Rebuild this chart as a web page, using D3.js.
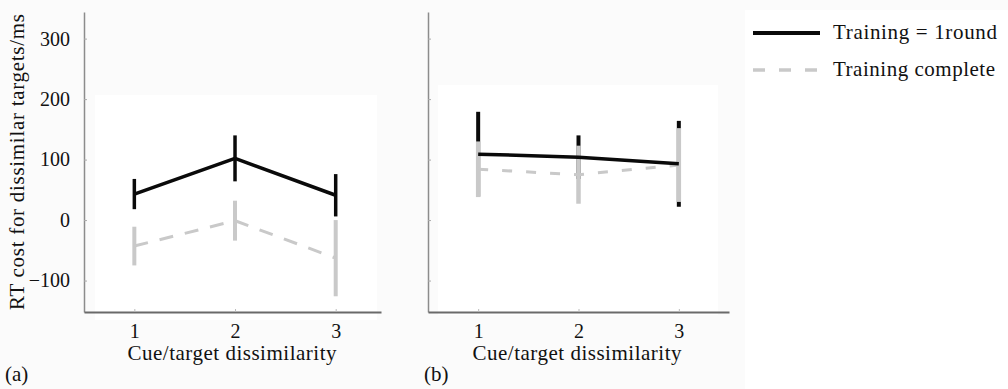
<!DOCTYPE html>
<html><head><meta charset="utf-8">
<script src="https://cdn.jsdelivr.net/npm/d3@7"></script>
<style>
html,body{margin:0;padding:0;background:#fff;}
</style></head>
<body>
<svg id="chart" width="1008" height="389"></svg>
<script>
const categories = [1, 2, 3];
const yTicks = [-100, 0, 100, 200, 300];
const seriesNames = ["Training = 1round", "Training complete"];

const aRound1 = [43, 102, 41];
const aRound1Err = [25, 38, 35];
const aComplete = [-43, -1, -63];
const aCompleteErr = [32, 33, 63];

const bRound1 = [109, 104, 93];
const bRound1Err = [70, 36, 71];
const bComplete = [84, 75, 91];
const bCompleteErr = [46, 48, 61];

// pick an installed serif font
function detectSerif() {
  const cands = ["Liberation Serif", "DejaVu Serif", "Noto Serif", "Tinos", "Times New Roman",
    "FreeSerif", "Nimbus Roman", "Noto Serif CJK SC", "Noto Serif CJK JP", "Times"];
  const c = document.createElement("canvas").getContext("2d");
  const s = "Training complete 0123 RTmsdW";
  const base = {};
  for (const b of ["monospace", "sans-serif"]) { c.font = `72px ${b}`; base[b] = c.measureText(s).width; }
  for (const f of cands) {
    let ok = false;
    for (const b of ["monospace", "sans-serif"]) {
      c.font = `72px "${f}", ${b}`;
      if (Math.abs(c.measureText(s).width - base[b]) > 0.5) ok = true;
    }
    if (ok) return `"${f}", serif`;
  }
  return "serif";
}
const SERIF = detectSerif();

const svg = d3.select("#chart").attr("font-family", SERIF);
const BLACK = "#0a0a0a", GRAY = "#c9c9c9";

svg.append("rect").attr("x",0).attr("y",0).attr("width",1008).attr("height",389).attr("fill","#fbfbfb");
svg.append("rect").attr("x",95).attr("y",95).attr("width",282).attr("height",225).attr("fill","#fff");
svg.append("rect").attr("x",438).attr("y",85).attr("width",280).attr("height",230).attr("fill","#fff");
svg.append("rect").attr("x",745).attr("y",10).attr("width",263).attr("height",379).attr("fill","#fff");

const y = d3.scaleLinear().domain([-152, 344]).range([312, 12]);

function panel(opts) {
  const x = d3.scaleLinear().domain(opts.xDomain).range(opts.xRange);
  const g = svg.append("g");
  const ya = g.append("g").attr("transform", `translate(${opts.xRange[0]},0)`)
    .call(d3.axisLeft(y).tickValues(yTicks).tickSizeInner(-3).tickSizeOuter(0)
      .tickFormat(opts.labels ? (d => d < 0 ? "\u2212" + Math.abs(d) : String(d)) : () => ""));
  ya.attr("font-family", SERIF);
  ya.select(".domain").attr("stroke", "#8c8c8c").attr("stroke-width", 1.5);
  ya.selectAll(".tick line").attr("stroke", "#aaa");
  ya.selectAll(".tick text").attr("x", -14).attr("font-size", 20).attr("fill", "#111");
  const xa = g.append("g").attr("transform", `translate(0,${y.range()[0]})`)
    .call(d3.axisBottom(x).tickValues(categories).tickSizeInner(-3).tickSizeOuter(0).tickFormat(d3.format("d")));
  xa.attr("font-family", SERIF);
  xa.select(".domain").attr("stroke", "#6a6a6a").attr("stroke-width", 2);
  xa.selectAll(".tick line").attr("stroke", "#bbb");
  xa.selectAll(".tick text").attr("y", 12).attr("font-size", 20).attr("fill", "#111");
  g.append("text").attr("x", opts.labelX).attr("y", 360).attr("text-anchor", "middle")
    .attr("font-size", 21).attr("fill", "#111")
    .attr("textLength", 209).attr("lengthAdjust", "spacing").text("Cue/target dissimilarity");
  g.append("text").attr("x", opts.tagX).attr("y", 381).attr("font-size", 21).attr("fill", "#111").text(opts.tag);

  const data = (vals, errs) => categories.map((c, i) => ({c, v: vals[i], e: errs[i]}));
  const line = d3.line().x(d => x(d.c)).y(d => y(d.v));
  const d1 = data(opts.r1, opts.r1e), d2 = data(opts.cp, opts.cpe);
  g.selectAll(".eb1").data(d1).join("line")
    .attr("x1", d => x(d.c)).attr("x2", d => x(d.c))
    .attr("y1", d => y(d.v + d.e)).attr("y2", d => y(d.v - d.e))
    .attr("stroke", BLACK).attr("stroke-width", opts.ebW);
  g.selectAll(".eb2").data(d2).join("line")
    .attr("x1", d => x(d.c)).attr("x2", d => x(d.c))
    .attr("y1", d => y(d.v + d.e)).attr("y2", d => y(d.v - d.e))
    .attr("stroke", GRAY).attr("stroke-width", opts.ebW + 0.5);
  g.append("path").datum(d2).attr("d", line).attr("fill", "none")
    .attr("stroke", GRAY).attr("stroke-width", 3).attr("stroke-dasharray", opts.dash);
  g.append("path").datum(d1).attr("d", line).attr("fill", "none")
    .attr("stroke", BLACK).attr("stroke-width", 3.5).attr("stroke-linejoin", "round");
}

panel({xDomain: [0.5, 3.45], xRange: [84, 381], labels: true, labelX: 232, tagX: 5, tag: "(a)",
  r1: aRound1, r1e: aRound1Err, cp: aComplete, cpe: aCompleteErr, ebW: 3.5, dash: "14,12"});
panel({xDomain: [0.5, 3.5], xRange: [428, 729], labels: false, labelX: 577, tagX: 424, tag: "(b)",
  r1: bRound1, r1e: bRound1Err, cp: bComplete, cpe: bCompleteErr, ebW: 4, dash: "10,14"});

svg.append("text").attr("transform", "translate(24,162) rotate(-90)").attr("text-anchor", "middle")
  .attr("font-size", 21).attr("fill", "#111")
  .attr("textLength", 296).attr("lengthAdjust", "spacing")
  .text("RT cost for dissimilar targets/ms");

const leg = svg.append("g");
const legY = [33, 70];
leg.append("line").attr("x1", 753).attr("x2", 820).attr("y1", legY[0]).attr("y2", legY[0])
  .attr("stroke", BLACK).attr("stroke-width", 4);
leg.append("line").attr("x1", 753).attr("x2", 820).attr("y1", legY[1]).attr("y2", legY[1])
  .attr("stroke", GRAY).attr("stroke-width", 3.5).attr("stroke-dasharray", "12,14");
leg.selectAll(".lt").data(seriesNames).join("text")
  .attr("x", 833).attr("y", (d, i) => legY[i] + 6).attr("font-size", 21).attr("fill", "#111")
  .attr("textLength", (d, i) => [164, 162][i]).attr("lengthAdjust", "spacing")
  .text(d => d);
</script>
</body></html>
